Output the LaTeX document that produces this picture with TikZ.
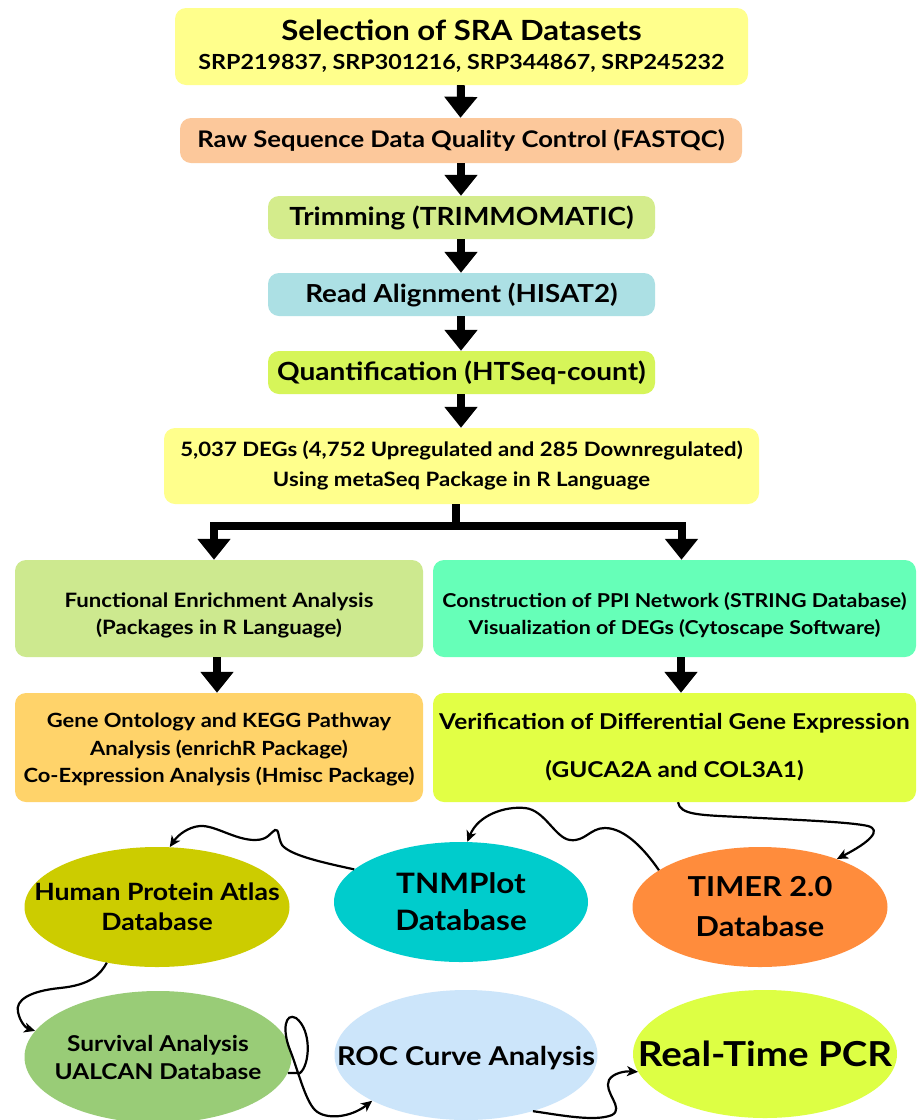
\documentclass[tikz,border=0pt]{standalone}
\usepackage{fontspec}
\setmainfont{Lato}[FakeStretch=1.12]
\usetikzlibrary{arrows.meta,shapes.geometric,calc}
\newcommand\fsz[2]{\fontsize{#1}{#2}\selectfont}
\definecolor{cYel}{RGB}{255,255,140}
\definecolor{cPeach}{RGB}{252,200,155}
\definecolor{cTrim}{RGB}{212,236,140}
\definecolor{cBlue}{RGB}{172,224,228}
\definecolor{cQuant}{RGB}{214,245,89}
\definecolor{cFunc}{RGB}{205,233,143}
\definecolor{cMint}{RGB}{102,255,184}
\definecolor{cOnt}{RGB}{255,211,106}
\definecolor{cVer}{RGB}{226,255,69}
\definecolor{cHPA}{RGB}{204,204,0}
\definecolor{cTNM}{RGB}{0,204,204}
\definecolor{cTIM}{RGB}{255,140,60}
\definecolor{cSurv}{RGB}{153,204,119}
\definecolor{cROC}{RGB}{204,229,250}
\definecolor{cPCR}{RGB}{221,255,68}
\tikzset{
  box/.style={rectangle, rounded corners=11pt, draw=none, inner sep=0pt, align=center},
  oval/.style={ellipse, draw=none, inner sep=0pt},
  txt/.style={inner sep=0pt, align=center},
  bigarrow/.style={line width=8pt, -{Triangle[length=21pt,width=32pt]}},
  bar/.style={line width=8pt},
  wiggle/.style={line width=2.2pt, -{Stealth[length=11pt,width=10pt,inset=3pt]}},
}
\begin{document}
\begin{tikzpicture}[x=1pt,y=-1pt]
\fill[white] (0,0) rectangle (918,1120);
\useasboundingbox (0,0) rectangle (918,1120);
% boxes
\node[box, fill=cYel, minimum width=573pt, minimum height=77pt, font=\bfseries\fsz{20.8}{29}] (b1) at (461.5,46.5)
  {\fsz{27.8}{29}Selection of SRA Datasets\\SRP219837, SRP301216, SRP344867, SRP245232};
\node[box, fill=cPeach, minimum width=562pt, minimum height=45pt, font=\bfseries\fsz{22.9}{28}] (b2) at (461,140.5)
  {Raw Sequence Data Quality Control (FASTQC)};
\node[box, fill=cTrim, minimum width=387pt, minimum height=43pt, font=\bfseries\fsz{25}{28}] (b3) at (461.5,217.5)
  {Trimming (TRIMMOMATIC)};
\node[box, fill=cBlue, minimum width=387pt, minimum height=43pt, font=\bfseries\fsz{24.8}{28}] (b4) at (461.5,294.5)
  {Read Alignment (HISAT2)};
\node[box, fill=cQuant, minimum width=387pt, minimum height=43pt, font=\bfseries\fsz{25}{28}] (b5) at (461.5,372.5)
  {Quantification (HTSeq-count)};
\node[box, fill=cYel, minimum width=595pt, minimum height=76pt, font=\bfseries\fsz{19.8}{30}] (b6) at (461.5,466)
  {5,037 DEGs (4,752 Upregulated and 285 Downregulated)\\Using metaSeq Package in R Language};
\node[box, fill=cFunc, minimum width=408pt, minimum height=97pt] (b7) at (219,608.5) {};
\node[txt, font=\bfseries\fsz{19.8}{27}] (b7t) at ([yshift=-7pt]b7.center)
  {Functional Enrichment Analysis\\(Packages in R Language)};
\node[box, fill=cMint, minimum width=483pt, minimum height=97pt] (b8) at (674.5,608.5) {};
\node[txt, font=\bfseries\fsz{19.1}{27}] (b8t) at ([yshift=-7pt]b8.center)
  {Construction of PPI Network (STRING Database)\\Visualization of DEGs (Cytoscape Software)};
\node[box, fill=cOnt, minimum width=408pt, minimum height=109pt] (b9) at (219,747.5) {};
\node[txt, font=\bfseries\fsz{19.6}{27.5}] (b9t) at ([yshift=-2pt]b9.center)
  {Gene Ontology and KEGG Pathway\\Analysis (enrichR Package)\\Co-Expression Analysis (Hmisc Package)};
\node[box, fill=cVer, minimum width=483pt, minimum height=109pt, font=\bfseries\fsz{21.8}{48}] (b10) at (674.5,747.5)
  {Verification of Differential Gene Expression\\(GUCA2A and COL3A1)};
% ellipses
\node[oval, fill=cHPA, minimum width=265pt, minimum height=120pt] (e1) at (157,907) {};
\node[txt, font=\bfseries\fsz{23.8}{30}] (e1t) at (e1) {Human Protein Atlas\\Database};
\node[oval, fill=cTNM, minimum width=254pt, minimum height=120pt] (e2) at (461,902) {};
\node[txt, font=\bfseries\fsz{28.1}{37}] (e2t) at (e2) {TNMPlot\\Database};
\node[oval, fill=cTIM, minimum width=255pt, minimum height=120pt] (e3) at (760,907) {};
\node[txt, font=\bfseries\fsz{27.5}{40}] (e3t) at (e3) {TIMER 2.0\\Database};
\node[oval, fill=cSurv, minimum width=267pt, minimum height=132pt] (e4) at (158,1057) {};
\node[txt, font=\bfseries\fsz{21.8}{28}] (e4t) at (e4) {Survival Analysis\\UALCAN Database};
\node[oval, fill=cROC, minimum width=263pt, minimum height=130pt] (e5) at (466,1055) {};
\node[txt, font=\bfseries\fsz{25.9}{28}] (e5t) at ([yshift=-3pt]e5.center) {ROC Curve Analysis};
\node[oval, fill=cPCR, minimum width=264pt, minimum height=128pt] (e6) at (765,1054) {};
\node[txt, font=\bfseries\fsz{34.4}{40}] (e6t) at (e6) {Real-Time PCR};
% main arrows
\draw[bigarrow] ([xshift=-0.5pt]b1.south) -- ([xshift=-0.5pt]b2.north);
\draw[bigarrow] (b2.south) -- ([xshift=-0.5pt]b3.north);
\draw[bigarrow] ([xshift=-0.5pt]b3.south) -- ([xshift=-0.5pt]b4.north);
\draw[bigarrow] ([xshift=-0.5pt]b4.south) -- ([xshift=-0.5pt]b5.north);
\draw[bigarrow] ([xshift=-0.5pt]b5.south) -- ([xshift=-0.5pt]b6.north);
\coordinate (split) at (456,526);
\draw[bar] ([xshift=-5.5pt]b6.south) -- (split);
\draw[bigarrow] (split) -| ([xshift=-5pt]b7.north);
\draw[bigarrow] (split) -| ([xshift=7pt]b8.north);
\draw[bigarrow] ([xshift=-2pt]b7.south) -- ([xshift=-2pt]b9.north);
\draw[bigarrow] ([xshift=6.5pt]b8.south) -- ([xshift=6.5pt]b10.north);
% wiggly connectors
\draw[wiggle] ([xshift=3.5pt]b10.south) .. controls (680,815) and (700,815) .. (740,817)
  .. controls (800,820) and (850,822) .. (868,826) .. controls (882,830) and (870,842) .. (e3.32);
\draw[wiggle] (e3.160) .. controls (645,850) and (625,828) .. (605,828)
  .. controls (590,828) and (585,842) .. (570,840) .. controls (555,838) and (545,810) .. (525,808)
  .. controls (505,806) and (478,815) .. (e2.84);
\draw[wiggle] (e2.163) .. controls (320,862) and (290,855) .. (282,845)
  .. controls (278,838) and (279,828) .. (275,830) .. controls (270,833) and (268,840) .. (255,840)
  .. controls (235,840) and (215,825) .. (200,826) .. controls (188,827) and (178,835) .. (e1.78);
\draw[wiggle] (e1.228) .. controls (100,975) and (90,985) .. (60,988)
  .. controls (30,991) and (15,1000) .. (18,1012) .. controls (20,1022) and (26,1028) .. (e4.168);
\draw[wiggle] (e4.353) -- (300,1073) .. controls (310,1065) and (312,1030) .. (296,1018)
  .. controls (285,1012) and (282,1030) .. (290,1050) .. controls (298,1070) and (305,1100) .. (315,1110)
  .. controls (325,1120) and (350,1118) .. (e5.206);
\draw[wiggle] (e5.320) .. controls (560,1115) and (595,1122) .. (612,1115)
  .. controls (625,1108) and (603,1092) .. (609,1080) .. controls (613,1073) and (625,1071) .. (e6.188);
\end{tikzpicture}
\end{document}
